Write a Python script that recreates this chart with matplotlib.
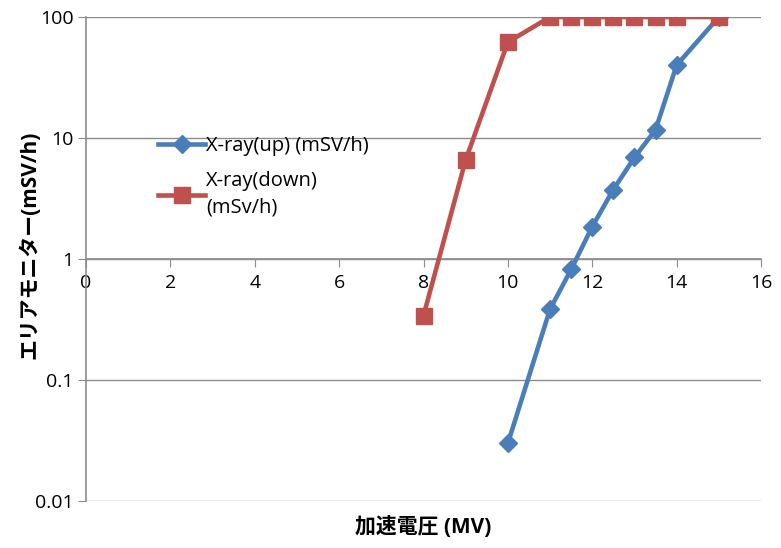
import matplotlib
matplotlib.use("Agg")
import matplotlib.pyplot as plt
from matplotlib.ticker import FixedLocator, FixedFormatter, NullLocator

plt.rcParams['font.family'] = ['Open Sans', 'Noto Sans CJK JP', 'DejaVu Sans']

x_up = [10, 11, 11.5, 12, 12.5, 13, 13.5, 14, 15]
y_up = [0.030, 0.385, 0.82, 1.85, 3.75, 6.9, 11.7, 40, 100]
x_down = [8, 9, 10, 11, 11.5, 12, 12.5, 13, 13.5, 14, 15]
y_down = [0.34, 6.6, 62, 100, 100, 100, 100, 100, 100, 100, 100]
label_up = "X-ray(up) (mSV/h)"
label_down = "X-ray(down)\n(mSv/h)"
xlabel = "加速電圧 (MV)"
ylabel = "エリアモニター(mSV/h)"
yticks = [0.01, 0.1, 1, 10, 100]
yticklabels = ["0.01", "0.1", "1", "10", "100"]
xticks = [0, 2, 4, 6, 8, 10, 12, 14, 16]

fig = plt.figure(figsize=(7.81, 5.48), dpi=100)
ax = fig.add_axes([86/781, 47/548, 675/781, 484/548])
ax.set_yscale('log')
ax.set_ylim(0.01, 100)
ax.set_xlim(0, 16)

grid_c = '#8c8c8c'
for yv in yticks:
    ax.axhline(yv, color=grid_c, lw=1.0, zorder=0)

ax.plot(x_up, y_up, color='#4A7EBB', lw=3.3, marker='D', markersize=9,
        label=label_up, zorder=3)
ax.plot(x_down, y_down, color='#C0504D', lw=3.3, marker='s', markersize=11,
        label=label_down, zorder=3)

ax.yaxis.set_major_locator(FixedLocator(yticks))
ax.yaxis.set_major_formatter(FixedFormatter(yticklabels))
ax.yaxis.set_minor_locator(NullLocator())
ax.set_xticks(xticks)
ax.set_xticklabels([str(v) for v in xticks])

for s in ['top', 'right']:
    ax.spines[s].set_visible(False)
ax.spines['left'].set_color(grid_c)
ax.spines['left'].set_linewidth(1.2)
ax.spines['bottom'].set_position(('data', 1))
ax.spines['bottom'].set_color(grid_c)
ax.spines['bottom'].set_linewidth(1.2)

ax.tick_params(axis='y', length=6, color=grid_c, labelsize=14, pad=3)
ax.tick_params(axis='x', length=6, color=grid_c, labelsize=14, pad=5,
               direction='out')

fig.text(423/781, 1 - 527/548, xlabel, ha='center', va='center',
         fontsize=15, fontweight='bold')
fig.text(30/781, 1 - 245/548, ylabel, ha='center', va='center',
         fontsize=15, fontweight='bold', rotation=90)

leg = ax.legend(loc='upper left', bbox_to_anchor=(64/675, (501 - 128)/484),
                frameon=False, fontsize=14.5, handlelength=2.35, handletextpad=0.05,
                labelspacing=0.75, borderaxespad=0)
for t in leg.get_texts():
    t.set_linespacing(1.45)

fig.savefig('out.png', dpi=100)
